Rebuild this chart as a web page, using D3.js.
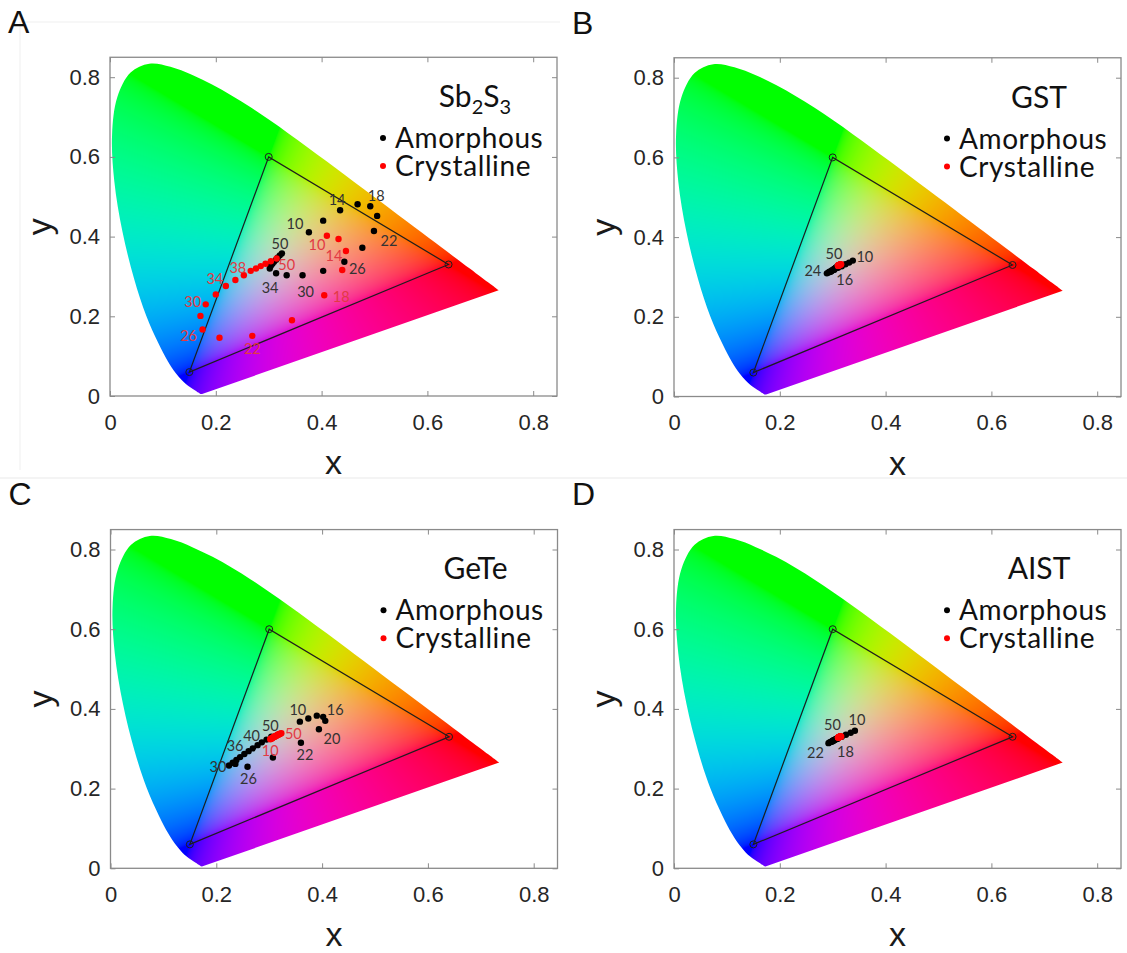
<!DOCTYPE html>
<html>
<head>
<meta charset="utf-8">
<script src="https://cdn.jsdelivr.net/npm/d3@7"></script>
<style>
  body { margin: 0; background: #fff; }
  svg { display: block; }
</style>
</head>
<body>
<script>
// CIE 1931 spectral locus, 380-700 nm every 5 nm
const locusX = [0.1741,0.1740,0.1738,0.1736,0.1733,0.1730,0.1726,0.1721,0.1714,0.1703,0.1689,0.1669,0.1644,0.1611,0.1566,0.1510,0.1440,0.1355,0.1241,0.1096,0.0913,0.0687,0.0454,0.0235,0.0082,0.0039,0.0139,0.0389,0.0743,0.1142,0.1547,0.1929,0.2296,0.2658,0.3016,0.3373,0.3731,0.4087,0.4441,0.4788,0.5125,0.5448,0.5752,0.6029,0.6270,0.6482,0.6658,0.6801,0.6915,0.7006,0.7079,0.7140,0.7190,0.7230,0.7260,0.7283,0.7300,0.7311,0.7320,0.7327,0.7334,0.7340,0.7344,0.7346,0.7347];
const locusY = [0.0050,0.0050,0.0049,0.0049,0.0048,0.0048,0.0048,0.0048,0.0051,0.0058,0.0069,0.0086,0.0109,0.0138,0.0177,0.0227,0.0297,0.0399,0.0578,0.0868,0.1327,0.2007,0.2950,0.4127,0.5384,0.6548,0.7502,0.8120,0.8338,0.8262,0.8059,0.7816,0.7543,0.7243,0.6923,0.6589,0.6245,0.5896,0.5547,0.5202,0.4866,0.4544,0.4242,0.3965,0.3725,0.3514,0.3340,0.3197,0.3083,0.2993,0.2920,0.2859,0.2809,0.2770,0.2740,0.2717,0.2700,0.2689,0.2680,0.2673,0.2666,0.2660,0.2656,0.2654,0.2653];

// sRGB primaries (red, green, blue)
const gamutX = [0.64, 0.30, 0.15];
const gamutY = [0.33, 0.60, 0.06];

const ticks = [0, 0.2, 0.4, 0.6, 0.8];
const thickness = [10,12,14,16,18,20,22,24,26,28,30,32,34,36,38,40,42,44,46,48,50];

// Sb2S3
const sbAmorX = [0.376,0.403,0.435,0.468,0.492,0.505,0.499,0.477,0.443,0.403,0.364,0.334,0.314,0.302,0.304,0.307,0.310,0.314,0.317,0.321,0.325];
const sbAmorY = [0.411,0.440,0.466,0.481,0.476,0.452,0.414,0.372,0.337,0.314,0.303,0.303,0.308,0.320,0.327,0.332,0.337,0.342,0.347,0.353,0.358];
const sbCrystX = [0.410,0.432,0.446,0.439,0.405,0.344,0.269,0.207,0.175,0.171,0.181,0.200,0.219,0.237,0.253,0.266,0.276,0.285,0.294,0.304,0.315];
const sbCrystY = [0.402,0.394,0.364,0.316,0.253,0.190,0.151,0.146,0.167,0.201,0.230,0.255,0.276,0.291,0.303,0.314,0.320,0.326,0.332,0.338,0.345];

// GST
const gstAmorX = [0.338,0.331,0.324,0.317,0.310,0.303,0.296,0.289,0.292,0.294,0.296,0.298,0.299,0.301,0.302,0.303,0.304,0.305,0.306,0.307,0.308];
const gstAmorY = [0.341,0.336,0.332,0.327,0.323,0.318,0.313,0.309,0.311,0.313,0.314,0.315,0.317,0.318,0.319,0.320,0.321,0.322,0.323,0.324,0.325];
const gstCrystX = [0.316,0.315,0.314,0.313,0.312,0.311,0.310,0.310,0.310,0.311,0.311,0.312,0.312,0.312,0.313,0.313,0.313,0.313,0.314,0.314,0.314];
const gstCrystY = [0.332,0.331,0.331,0.330,0.330,0.329,0.329,0.328,0.328,0.329,0.329,0.329,0.330,0.330,0.330,0.330,0.331,0.331,0.331,0.331,0.331];

// GeTe
const geteAmorX = [0.358,0.374,0.390,0.402,0.406,0.394,0.360,0.307,0.259,0.236,0.224,0.231,0.238,0.245,0.253,0.261,0.269,0.278,0.286,0.295,0.304];
const geteAmorY = [0.368,0.376,0.383,0.380,0.370,0.349,0.315,0.278,0.255,0.262,0.258,0.265,0.272,0.279,0.287,0.294,0.301,0.309,0.316,0.323,0.330];
const geteCrystX = [0.302,0.303,0.304,0.305,0.306,0.307,0.308,0.309,0.310,0.311,0.312,0.313,0.314,0.315,0.316,0.317,0.318,0.319,0.320,0.321,0.323];
const geteCrystY = [0.324,0.325,0.326,0.326,0.327,0.328,0.329,0.330,0.330,0.331,0.332,0.332,0.333,0.334,0.335,0.335,0.336,0.337,0.337,0.338,0.339];

// AIST
const aistAmorX = [0.342,0.334,0.325,0.317,0.309,0.300,0.292,0.294,0.296,0.298,0.299,0.300,0.301,0.302,0.303,0.304,0.305,0.306,0.307,0.308,0.309];
const aistAmorY = [0.345,0.340,0.335,0.330,0.325,0.319,0.314,0.316,0.317,0.318,0.319,0.320,0.321,0.321,0.322,0.323,0.323,0.324,0.325,0.325,0.326];
const aistCrystX = [0.316,0.315,0.314,0.313,0.312,0.311,0.311,0.310,0.310,0.311,0.311,0.312,0.312,0.312,0.313,0.313,0.313,0.314,0.314,0.314,0.314];
const aistCrystY = [0.331,0.331,0.330,0.330,0.329,0.329,0.328,0.328,0.328,0.328,0.329,0.329,0.329,0.329,0.330,0.330,0.330,0.330,0.331,0.331,0.331];

// labelled thicknesses: [thickness, dx, dy] in px from the point
const sbAmorLabels = [[10,-14,-9],[14,-3,-11],[18,6,-11],[22,15,9],[26,13,7],[30,3,16],[34,-6,14],[50,-2,-10]];
const sbCrystLabels = [[10,-10,9],[14,-12,5],[18,17,1],[22,0,13],[26,-14,6],[30,-13,-3],[34,-11,-8],[38,-6,-8],[50,10,6]];
const gstAmorLabels = [[10,12,-4],[16,3,13],[24,-14,-3],[50,-3,-13]];
const gstCrystLabels = [];
const geteAmorLabels = [[10,-2,-12],[16,12,-7],[20,13,9],[22,4,12],[26,1,12],[30,-11,1],[36,-5,-12],[40,3,-16],[50,-1,-11]];
const geteCrystLabels = [[10,0,11],[50,12,0]];
const aistAmorLabels = [[10,2,-11],[18,8,13],[22,-13,9],[50,-5,-14]];
const aistCrystLabels = [];

const W = 1127, H = 953;
const xUnit = 529, yUnit = 398.5, xMax = 0.845, yMax = 0.85;

const svg = d3.select('body').append('svg')
  .attr('width', W).attr('height', H)
  .style('font-family', 'Lato, "Open Sans", sans-serif');

// faint page separators
svg.append('line').attr('x1', 0).attr('x2', W).attr('y1', 478).attr('y2', 478)
  .attr('stroke', '#f1f1f1').attr('stroke-width', 1.5);
svg.append('line').attr('x1', 20).attr('x2', 20).attr('y1', 22).attr('y2', 470)
  .attr('stroke', '#f4f4f4').attr('stroke-width', 1.5);
svg.append('line').attr('x1', 20).attr('x2', 560).attr('y1', 22).attr('y2', 22)
  .attr('stroke', '#f4f4f4').attr('stroke-width', 1.5);

// chromaticity colour for one xy point
function xyColor(x, y) {
  y = Math.max(y, 0.001);
  const X = x / y, Y = 1, Z = (1 - x - y) / y;
  let r = 3.2406 * X - 1.5372 * Y - 0.4986 * Z;
  let g = -0.9689 * X + 1.8758 * Y + 0.0415 * Z;
  let b = 0.0557 * X - 0.2040 * Y + 1.0570 * Z;
  r = Math.max(r, 0); g = Math.max(g, 0); b = Math.max(b, 0);
  const n = Math.hypot(r, g, b) || 1;
  const gam = v => {
    v = Math.min(1, v / n);
    return Math.round(255 * (v <= 0.0031308 ? 12.92 * v : 1.055 * Math.pow(v, 1 / 2.4) - 0.055));
  };
  return [gam(r), gam(g), gam(b)];
}

// render the filled horseshoe once (same size in every panel)
const imgW = Math.ceil(0.75 * xUnit), imgH = Math.ceil(0.85 * yUnit);
const canvas = document.createElement('canvas');
canvas.width = imgW; canvas.height = imgH;
const ctx = canvas.getContext('2d');
const imgData = ctx.createImageData(imgW, imgH);
for (let j = 0; j < imgH; j++) {
  for (let i = 0; i < imgW; i++) {
    const x = (i + 0.5) / xUnit, y = (imgH - j - 0.5) / yUnit;
    const c = xyColor(x, y);
    const k = (j * imgW + i) * 4;
    imgData.data[k] = c[0]; imgData.data[k + 1] = c[1]; imgData.data[k + 2] = c[2]; imgData.data[k + 3] = 255;
  }
}
ctx.putImageData(imgData, 0, 0);
const horseshoeUrl = canvas.toDataURL();

const panels = [
  { id: 'A', x0: 110, y0: 396, title: ['Sb', '2', 'S', '3'],
    ax: sbAmorX, ay: sbAmorY, cx: sbCrystX, cy: sbCrystY, al: sbAmorLabels, cl: sbCrystLabels },
  { id: 'B', x0: 674, y0: 396.5, title: ['GST'],
    ax: gstAmorX, ay: gstAmorY, cx: gstCrystX, cy: gstCrystY, al: gstAmorLabels, cl: gstCrystLabels },
  { id: 'C', x0: 110.5, y0: 868.3, title: ['GeTe'],
    ax: geteAmorX, ay: geteAmorY, cx: geteCrystX, cy: geteCrystY, al: geteAmorLabels, cl: geteCrystLabels },
  { id: 'D', x0: 674, y0: 868.3, title: ['AIST'],
    ax: aistAmorX, ay: aistAmorY, cx: aistCrystX, cy: aistCrystY, al: aistAmorLabels, cl: aistCrystLabels }
];

const fmt = d => d === 0 ? '0' : d3.format('.1f')(d);

panels.forEach(p => {
  const x = d3.scaleLinear().domain([0, xMax]).range([p.x0, p.x0 + xMax * xUnit]);
  const y = d3.scaleLinear().domain([0, yMax]).range([p.y0, p.y0 - yMax * yUnit]);
  const g = svg.append('g');

  // panel letter
  svg.append('text').attr('x', p.x0 - 102).attr('y', p.y0 - 363)
    .style('font-family', '"Liberation Sans", Arial, sans-serif')
    .attr('font-size', 32).attr('fill', '#111').text(p.id);

  // horseshoe: smooth spectral locus closed by the straight purple line
  const locus = locusX.map((v, i) => [x(v), y(locusY[i])]);
  const clipId = 'clip' + p.id;
  const locusPath = d3.line().curve(d3.curveCatmullRom.alpha(0.5))(locus) + 'Z';
  g.append('clipPath').attr('id', clipId)
    .append('path').attr('d', locusPath);
  g.append('image')
    .attr('href', horseshoeUrl)
    .attr('x', x(0)).attr('y', y(0) - imgH)
    .attr('width', imgW).attr('height', imgH)
    .attr('clip-path', 'url(#' + clipId + ')');

  // sRGB triangle
  const tri = gamutX.map((v, i) => [x(v), y(gamutY[i])]);
  g.append('path').attr('d', d3.line()(tri) + 'Z')
    .attr('fill', 'none').attr('stroke', '#1e1e1e').attr('stroke-width', 1.2);
  g.selectAll('.vtx').data(tri).join('circle')
    .attr('cx', d => d[0]).attr('cy', d => d[1]).attr('r', 3.5)
    .attr('fill', 'none').attr('stroke', '#1e1e1e').attr('stroke-width', 1);

  // axes, ticks inward on all four sides
  const tickStyle = sel => {
    sel.select('.domain').remove();
    sel.selectAll('line').attr('stroke', '#8a8a8a');
    sel.selectAll('text').attr('fill', '#262626')
      .style('font-family', '"Liberation Sans", Arial, sans-serif').attr('font-size', 22);
  };
  g.append('g').attr('transform', `translate(0,${y(0)})`)
    .call(d3.axisBottom(x).tickValues(ticks).tickFormat(fmt).tickSizeInner(-5).tickSizeOuter(0).tickPadding(18))
    .call(tickStyle);
  g.append('g').attr('transform', `translate(${x(0)},0)`)
    .call(d3.axisLeft(y).tickValues(ticks).tickFormat(fmt).tickSizeInner(-5).tickSizeOuter(0).tickPadding(10))
    .call(tickStyle);
  g.append('g').attr('transform', `translate(0,${y(yMax)})`)
    .call(d3.axisTop(x).tickValues(ticks).tickFormat('').tickSizeInner(-5).tickSizeOuter(0))
    .call(tickStyle);
  g.append('g').attr('transform', `translate(${x(xMax)},0)`)
    .call(d3.axisRight(y).tickValues(ticks).tickFormat('').tickSizeInner(-5).tickSizeOuter(0))
    .call(tickStyle);
  g.append('rect')
    .attr('x', x(0)).attr('y', y(yMax))
    .attr('width', x(xMax) - x(0)).attr('height', y(0) - y(yMax))
    .attr('fill', 'none').attr('stroke', '#8a8a8a').attr('stroke-width', 1.3);

  // axis labels
  g.append('text').attr('x', (x(0) + x(xMax)) / 2).attr('y', y(0) + 78)
    .attr('text-anchor', 'middle').attr('font-size', 34).attr('fill', '#1a1a1a')
    .style('font-family', '"Liberation Sans", Arial, sans-serif').text('x');
  g.append('text')
    .attr('transform', `translate(${x(0) - 59},${(y(0) + y(yMax)) / 2}) rotate(-90)`)
    .attr('text-anchor', 'middle').attr('font-size', 34).attr('fill', '#1a1a1a')
    .style('font-family', '"Liberation Sans", Arial, sans-serif').text('y');

  // data points
  const amor = thickness.map((t, i) => ({ t, x: p.ax[i], y: p.ay[i] }));
  const cryst = thickness.map((t, i) => ({ t, x: p.cx[i], y: p.cy[i] }));
  g.append('g').selectAll('circle').data(amor).join('circle')
    .attr('cx', d => x(d.x)).attr('cy', d => y(d.y)).attr('r', 3.2).attr('fill', '#000');
  g.append('g').selectAll('circle').data(cryst).join('circle')
    .attr('cx', d => x(d.x)).attr('cy', d => y(d.y)).attr('r', 3.2).attr('fill', '#f00');

  // thickness labels
  const addLabels = (pts, labels, color) => {
    g.append('g').selectAll('text').data(labels).join('text')
      .attr('x', d => x(pts[thickness.indexOf(d[0])].x) + d[1])
      .attr('y', d => y(pts[thickness.indexOf(d[0])].y) + d[2])
      .attr('text-anchor', 'middle').attr('dominant-baseline', 'central')
      .attr('font-size', 14.5).attr('fill', color)
      .text(d => d[0]);
  };
  addLabels(amor, p.al, '#333');
  addLabels(cryst, p.cl, '#e23a44');

  // title
  const tt = g.append('text').attr('x', p.x0 + 365).attr('y', p.y0 - 289)
    .attr('text-anchor', 'middle').attr('font-size', 30).attr('fill', '#111');
  if (p.title.length > 1) {
    tt.append('tspan').text(p.title[0]);
    tt.append('tspan').attr('dy', 7).attr('font-size', 20).text(p.title[1]);
    tt.append('tspan').attr('dy', -7).text(p.title[2]);
    tt.append('tspan').attr('dy', 7).attr('font-size', 20).text(p.title[3]);
  } else {
    tt.text(p.title[0]);
  }

  // legend
  const lg = g.append('g');
  const legendItems = [['Amorphous', '#000'], ['Crystalline', '#f00']];
  legendItems.forEach((d, i) => {
    lg.append('circle').attr('cx', p.x0 + 273).attr('cy', p.y0 - 258 + i * 28)
      .attr('r', 3).attr('fill', d[1]);
    lg.append('text').attr('x', p.x0 + 285).attr('y', p.y0 - 248 + i * 28)
      .attr('font-size', 28).attr('letter-spacing', 0.6).attr('fill', '#111').text(d[0]);
  });
});
</script>
</body>
</html>
